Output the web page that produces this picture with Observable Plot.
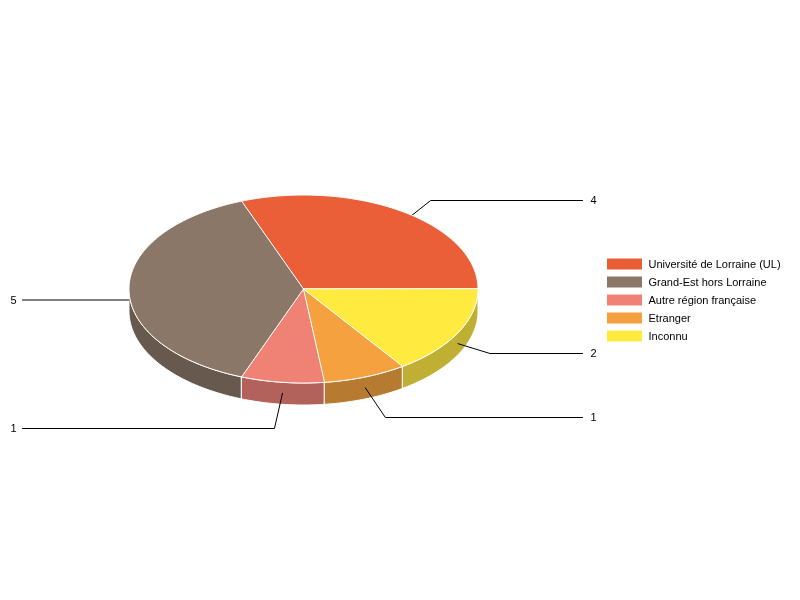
<!DOCTYPE html>
<html>
<head>
<meta charset="utf-8">
<script src="https://cdn.jsdelivr.net/npm/d3@7"></script>
<script src="https://cdn.jsdelivr.net/npm/@observablehq/plot@0.6"></script>
<style>html,body{margin:0;padding:0;background:#fff}svg{display:block;will-change:transform}</style>
</head>
<body>
<div id="chart"></div>
<script>
const categories = ["Université de Lorraine (UL)", "Grand-Est hors Lorraine", "Autre région française", "Etranger", "Inconnu"];
const values = [4, 5, 1, 1, 2];
const topColors = ["#EA5F38", "#8A7767", "#EF8275", "#F5A13F", "#FFEB3F"];
const sideColors = ["#B04729", "#67594D", "#B2625A", "#B67A30", "#BFB034"];
const valueLabelY = [200, 299.5, 428, 417, 353];
const elbowDx = [28, 0, -8, 20, 32];

// layout of the pie
const cx = 303, cy = 288.5, rx = 174.5, ry = 94, depth = 22;
const rad = a => a * Math.PI / 180;
const px = a => cx + rx * Math.cos(rad(a));
const py = (a, dz = 0) => cy - ry * Math.sin(rad(a)) + dz;

// slices run counter-clockwise from 3 o'clock
const total = d3.sum(values);
let acc = 0;
const slices = categories.map((name, i) => {
  const start = acc / total * 360;
  acc += values[i];
  return {name, i, start, end: acc / total * 360, value: values[i]};
});
const arcAngles = (a0, a1) => {
  const n = Math.max(2, Math.ceil((a1 - a0) / 1));
  return d3.range(n + 1).map(k => a0 + (a1 - a0) * k / n);
};

const topPts = slices.flatMap(s => [
  {id: s.name, x: cx, y: cy},
  ...arcAngles(s.start, s.end).map(a => ({id: s.name, x: px(a), y: py(a)}))
]);

// outer wall: only the front half (180°..360°) can be seen
const sidePts = slices.flatMap(s => {
  const a0 = Math.max(s.start, 180), a1 = s.end;
  if (a1 <= a0) return [];
  const arc = arcAngles(a0, a1);
  const id = s.name + " (side)";
  return [
    ...arc.map(a => ({id, x: px(a), y: py(a)})),
    ...arc.slice().reverse().map(a => ({id, x: px(a), y: py(a, depth)}))
  ];
});

// leader lines leave from the middle of each slice's wall
const leaders = slices.flatMap(s => {
  const mid = (s.start + s.end) / 2;
  const x0 = px(mid), y0 = py(mid, depth / 2);
  const right = Math.cos(rad(mid)) > 0;
  const yL = valueLabelY[s.i];
  const xEnd = right ? 582 : 22;
  return [
    {id: s.name, x: x0, y: y0},
    {id: s.name, x: x0 + elbowDx[s.i], y: yL},
    {id: s.name, x: xEnd, y: yL}
  ];
});
const valueTexts = slices.map(s => {
  const right = Math.cos(rad((s.start + s.end) / 2)) > 0;
  return {x: right ? 590 : 10, y: valueLabelY[s.i], text: String(s.value)};
});

const legend = categories.map((name, i) => ({name, y: 264 + i * 18}));
const font = "Liberation Sans, Arial, sans-serif";

const plot = Plot.plot({
  width: 800, height: 600,
  margin: 0,
  x: {domain: [0, 800], range: [0, 800], axis: null},
  y: {domain: [0, 600], range: [0, 600], axis: null},
  color: {
    domain: [...categories, ...categories.map(c => c + " (side)")],
    range: [...topColors, ...sideColors]
  },
  marks: [
    Plot.line(sidePts, {x: "x", y: "y", z: "id", fill: "id", stroke: "white", strokeWidth: 1, curve: "linear-closed", strokeLinejoin: "round"}),
    Plot.line(leaders, {x: "x", y: "y", z: "id", stroke: "black", strokeWidth: 1, strokeLinejoin: "miter"}),
    Plot.line(topPts, {x: "x", y: "y", z: "id", fill: "id", stroke: "white", strokeWidth: 1, curve: "linear-closed", strokeLinejoin: "round"}),
    Plot.text(valueTexts, {x: "x", y: "y", text: "text", textAnchor: "start", lineAnchor: "middle", fontSize: 11, fontFamily: font, fill: "black"}),
    Plot.rect(legend, {x1: 607, x2: 642, y1: d => d.y - 5.5, y2: d => d.y + 5.5, fill: "name"}),
    Plot.text(legend, {x: 648, y: "y", text: "name", textAnchor: "start", lineAnchor: "middle", fontSize: 11, fontFamily: font, fill: "black"})
  ]
});
document.getElementById("chart").appendChild(plot);
</script>
</body>
</html>
